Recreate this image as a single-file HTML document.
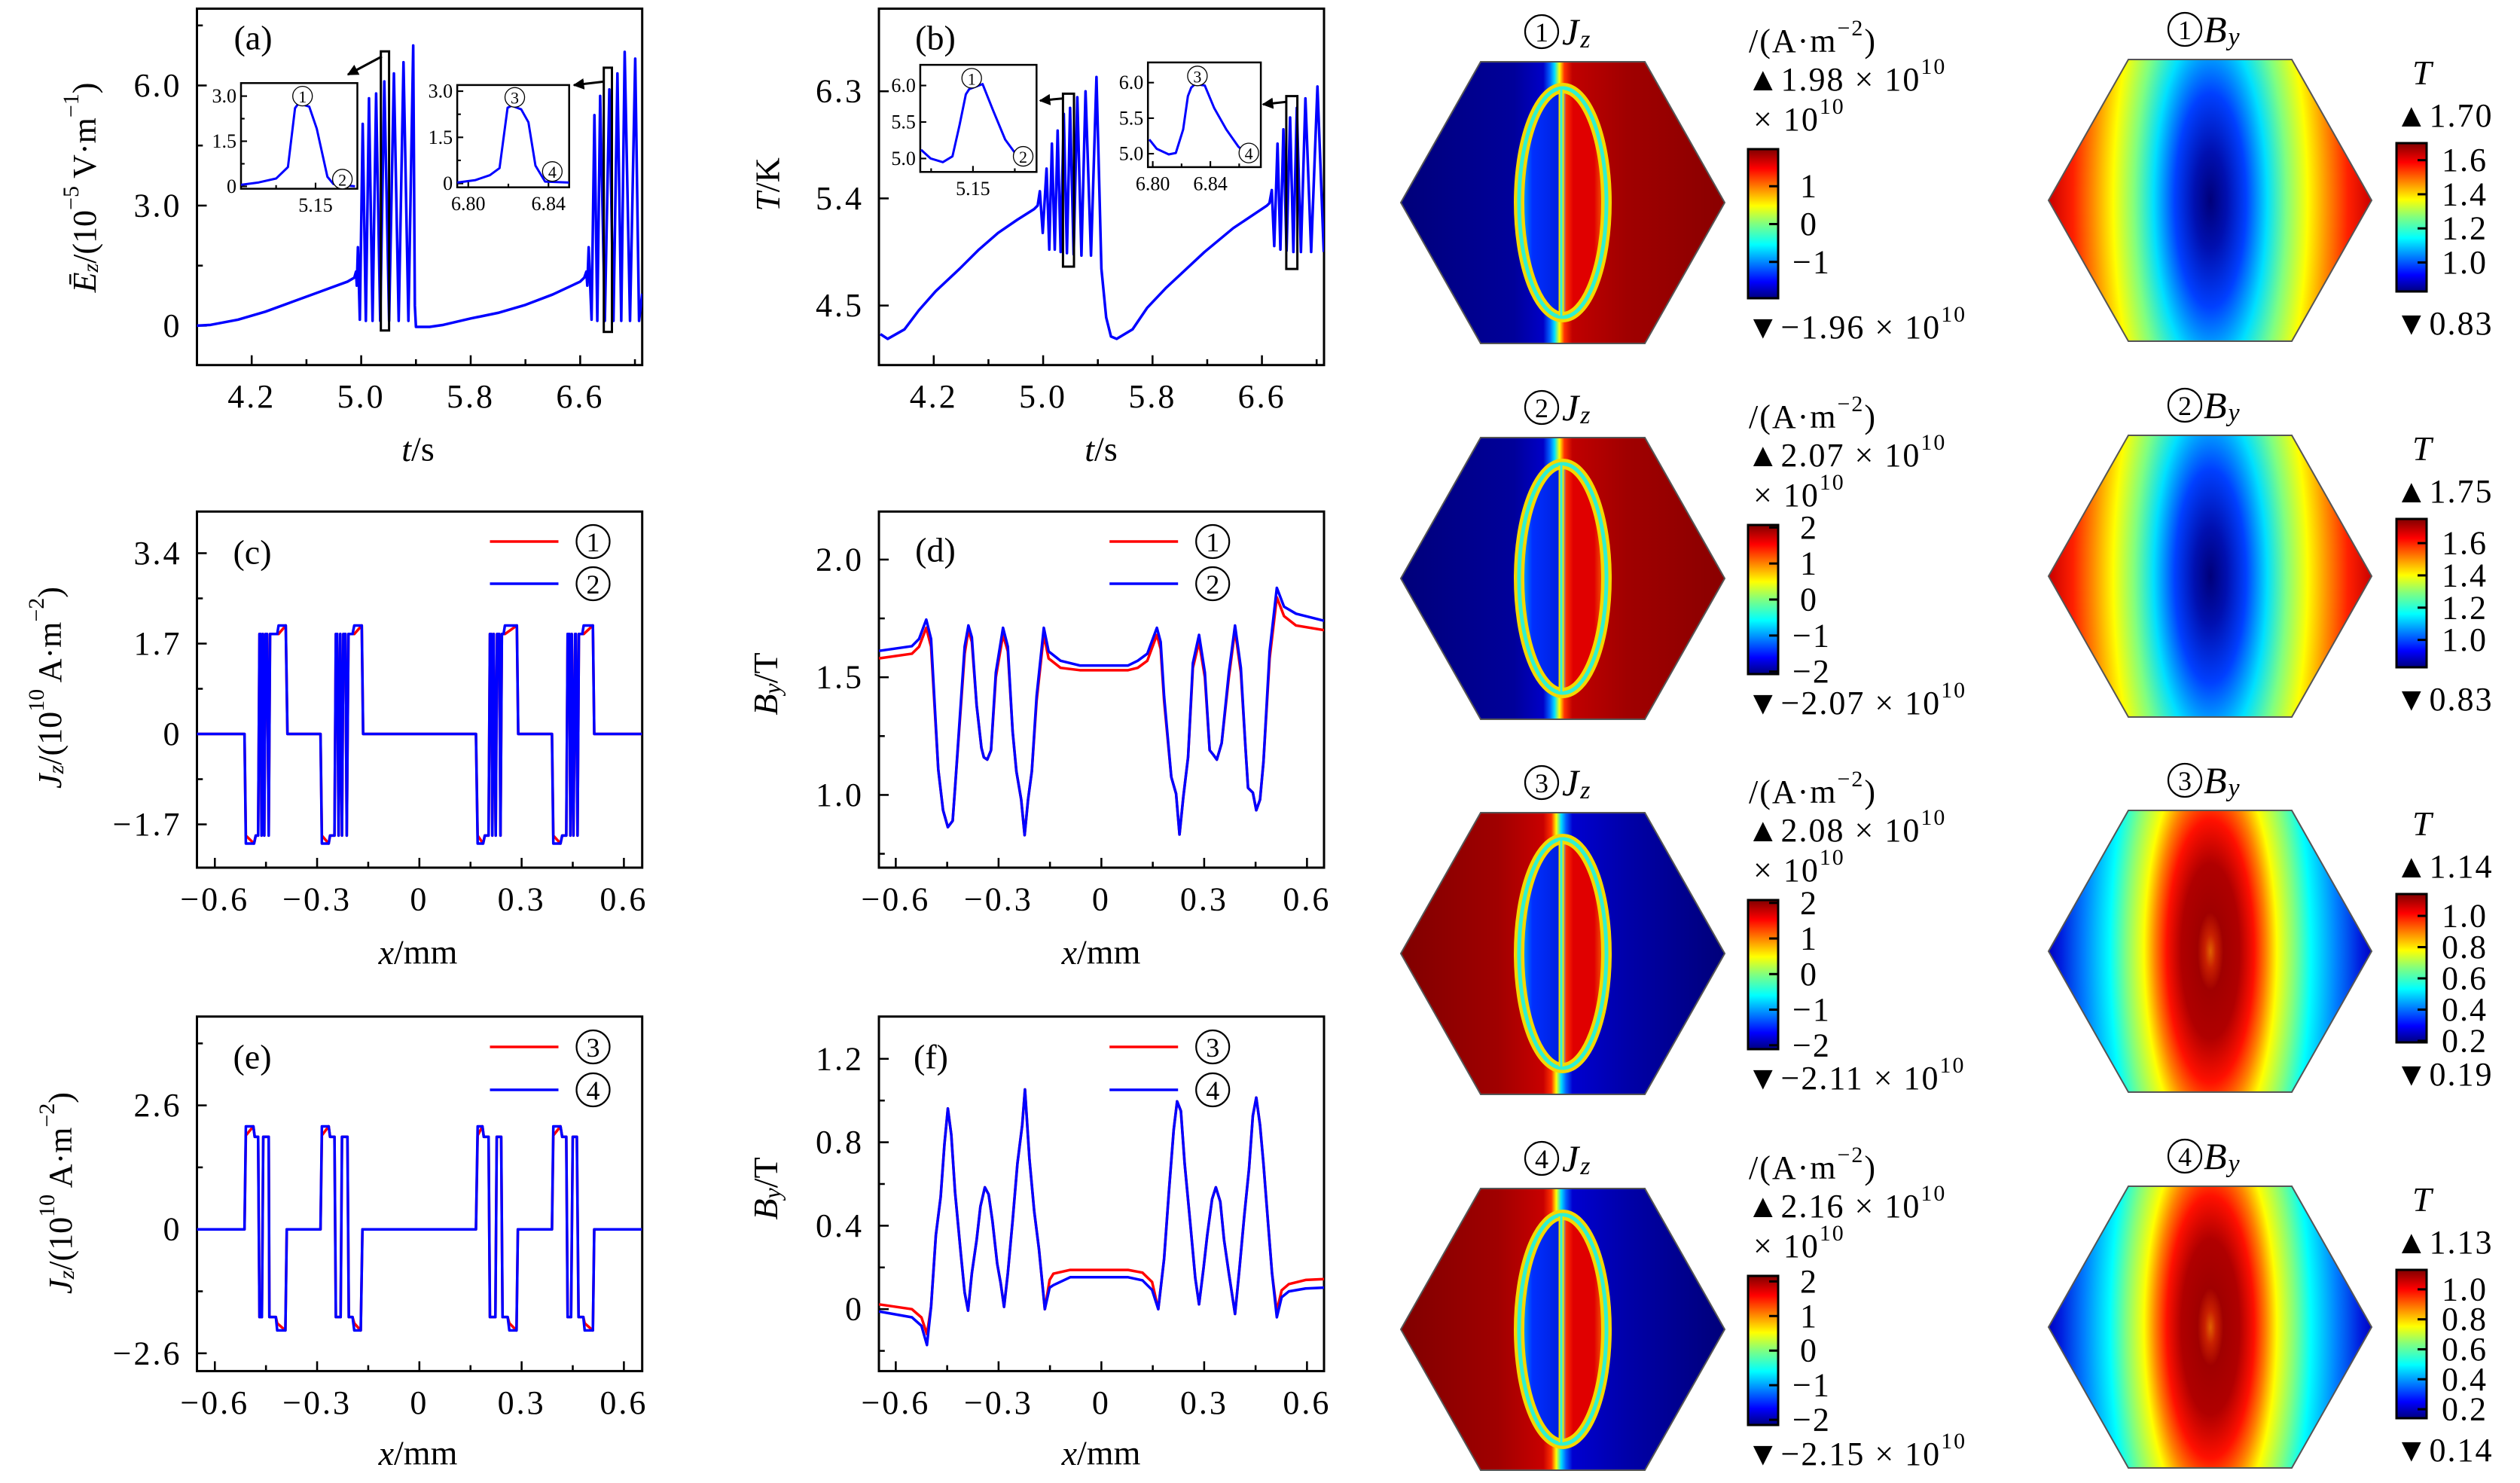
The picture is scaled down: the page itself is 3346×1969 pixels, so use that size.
<!DOCTYPE html>
<html><head><meta charset="utf-8"><title>Figure</title>
<style>html,body{margin:0;padding:0;background:#fff}svg{display:block}</style></head>
<body>
<svg id="fig" xmlns="http://www.w3.org/2000/svg" width="3346" height="1969" viewBox="0 0 3346 1969" font-family="'Liberation Serif','DejaVu Serif',serif">
<defs>
<marker id="arr" viewBox="0 0 10 10" refX="9" refY="5" markerWidth="5" markerHeight="5" orient="auto"><path d="M0,0 L10,5 L0,10 z" fill="#000"/></marker>
<linearGradient id="jet" x1="0" y1="1" x2="0" y2="0">
<stop offset="0" stop-color="#000080"/><stop offset="0.11" stop-color="#0000ff"/><stop offset="0.36" stop-color="#00ffff"/><stop offset="0.5" stop-color="#80ff80"/><stop offset="0.62" stop-color="#ffff00"/><stop offset="0.87" stop-color="#ff0000"/><stop offset="1" stop-color="#800000"/>
</linearGradient>
<linearGradient id="jzBgA" gradientUnits="userSpaceOnUse" x1="1860" y1="0" x2="2290" y2="0">
<stop offset="0" stop-color="#00007a"/><stop offset="0.35" stop-color="#00009a"/><stop offset="0.44" stop-color="#0000c8"/><stop offset="0.46" stop-color="#0060ff"/><stop offset="0.475" stop-color="#00e0ff"/><stop offset="0.49" stop-color="#ffff00"/><stop offset="0.505" stop-color="#ff3000"/><stop offset="0.53" stop-color="#c00000"/><stop offset="0.7" stop-color="#a00000"/><stop offset="1" stop-color="#8a0000"/>
</linearGradient>
<linearGradient id="jzBgB" gradientUnits="userSpaceOnUse" x1="1860" y1="0" x2="2290" y2="0">
<stop offset="0" stop-color="#800000"/><stop offset="0.3" stop-color="#a00000"/><stop offset="0.44" stop-color="#c80000"/><stop offset="0.465" stop-color="#ff3000"/><stop offset="0.48" stop-color="#ffff00"/><stop offset="0.495" stop-color="#00e0ff"/><stop offset="0.51" stop-color="#0060ff"/><stop offset="0.53" stop-color="#0000d0"/><stop offset="0.7" stop-color="#0000a8"/><stop offset="1" stop-color="#00007a"/>
</linearGradient>
<linearGradient id="ellFill" gradientUnits="userSpaceOnUse" x1="2017" y1="0" x2="2133" y2="0">
<stop offset="0" stop-color="#00c0ff"/><stop offset="0.15" stop-color="#0030ff"/><stop offset="0.45" stop-color="#0020e0"/><stop offset="0.5" stop-color="#30e0ff"/><stop offset="0.54" stop-color="#ff3000"/><stop offset="0.62" stop-color="#e00000"/><stop offset="0.86" stop-color="#e00000"/><stop offset="1" stop-color="#ff8000"/>
</linearGradient>
</defs>

<g font-size="46" text-anchor="middle" dominant-baseline="central">
<text x="336" y="50">(a)</text>
<text x="1242" y="50">(b)</text>
<text x="335" y="733">(c)</text>
<text x="1242" y="730">(d)</text>
<text x="335" y="1403">(e)</text>
<text x="1236" y="1403">(f)</text>
</g>
<g font-size="46" text-anchor="middle" dominant-baseline="central">
<text x="555" y="596"><tspan font-style="italic">t</tspan>/s</text>
<text x="1462" y="596"><tspan font-style="italic">t</tspan>/s</text>
<text x="555" y="1264"><tspan font-style="italic">x</tspan>/mm</text>
<text x="1462" y="1264"><tspan font-style="italic">x</tspan>/mm</text>
<text x="555" y="1929"><tspan font-style="italic">x</tspan>/mm</text>
<text x="1462" y="1929"><tspan font-style="italic">x</tspan>/mm</text>
<text transform="translate(112,249) rotate(-90)" font-size="44"><tspan font-style="italic">Ē</tspan><tspan font-style="italic" font-size="30" dy="8">z</tspan><tspan dy="-8">/(10</tspan><tspan font-size="30" dy="-18">−5</tspan><tspan dy="18"> V·m</tspan><tspan font-size="30" dy="-18">−1</tspan><tspan dy="18">)</tspan></text>
<text transform="translate(1019,245) rotate(-90)"><tspan font-style="italic">T</tspan>/K</text>
<text transform="translate(66,913) rotate(-90)" font-size="44"><tspan font-style="italic">J</tspan><tspan font-style="italic" font-size="30" dy="8">z</tspan><tspan dy="-8">/(10</tspan><tspan font-size="30" dy="-18">10</tspan><tspan dy="18"> A·m</tspan><tspan font-size="30" dy="-18">−2</tspan><tspan dy="18">)</tspan></text>
<text transform="translate(80,1584) rotate(-90)" font-size="44"><tspan font-style="italic">J</tspan><tspan font-style="italic" font-size="30" dy="8">z</tspan><tspan dy="-8">/(10</tspan><tspan font-size="30" dy="-18">10</tspan><tspan dy="18"> A·m</tspan><tspan font-size="30" dy="-18">−2</tspan><tspan dy="18">)</tspan></text>
<text transform="translate(1016,908) rotate(-90)"><tspan font-style="italic">B</tspan><tspan font-style="italic" font-size="32" dy="9">y</tspan><tspan dy="-9">/T</tspan></text>
<text transform="translate(1016,1578) rotate(-90)"><tspan font-style="italic">B</tspan><tspan font-style="italic" font-size="32" dy="9">y</tspan><tspan dy="-9">/T</tspan></text>
</g>
</svg>
<script>
// ---------------- DATA ----------------
const tA=[3.8,3.9,4.1,4.3,4.5,4.7,4.9,4.95,4.962,4.968,
 4.976,4.99,5.011,5.034,5.057,5.083,5.109,5.139,5.169,5.204,5.239,5.274,5.309,5.345,
 5.380,5.392,5.40,5.5,5.6,5.8,6.0,6.2,6.4,6.6,6.63,6.645,6.652,
 6.662,6.683,6.704,6.725,6.746,6.78,6.813,6.843,6.872,6.9,6.925,6.964,7.002,7.03,7.053];
const eA=[0,0.02,0.15,0.35,0.6,0.85,1.1,1.2,1.35,1.0,
 1.96,0.15,5.04,0.12,5.68,0.12,5.8,0.12,6.1,0.12,6.3,0.12,6.58,0.12,
 7.0,0.5,-0.03,-0.03,0.02,0.18,0.32,0.52,0.78,1.1,1.2,1.35,1.0,
 1.96,0.15,5.26,0.12,5.74,0.12,5.9,0.12,6.3,0.12,6.84,0.12,6.67,0.12,0.8];
const aXTicks=[4.2,5.0,5.8,6.6], aXLabels=['4.2','5.0','5.8','6.6'], aXMinor=[4.6,5.4,6.2,7.0];
const aYTicks=[0,3,6], aYLabels=['0','3.0','6.0'], aYMinor=[1.5,4.5,7.5];
const tI1=[5.1311,5.1356,5.14,5.143,5.1448,5.1457,5.1484,5.1503,5.153,5.1545,5.16];
const eI1=[0.05,0.13,0.26,0.64,2.6,2.76,2.65,1.92,0.32,0.08,0.0];
const tI2=[6.7945,6.8036,6.8108,6.8156,6.8196,6.8216,6.8264,6.83,6.8335,6.8383,6.8503];
const eI2=[0.03,0.11,0.27,0.5,2.46,2.53,2.41,1.99,0.58,0.06,0.03];
const tB=[3.81,3.863,3.986,4.091,4.214,4.39,4.53,4.67,4.81,4.934,4.96,
 4.976,4.997,5.025,5.045,5.064,5.085,5.106,5.128,5.151,5.174,5.197,5.223,5.25,5.28,5.31,5.35,
 5.39,5.426,5.461,5.496,5.538,5.654,5.76,5.9,6.18,6.39,6.637,6.655,
 6.672,6.69,6.714,6.735,6.757,6.78,6.806,6.83,6.855,6.885,6.918,6.96,7.006,7.052];
const TB=[4.26,4.22,4.30,4.46,4.62,4.81,4.97,5.11,5.22,5.31,5.34,
 5.46,5.11,5.65,4.97,5.86,4.97,5.97,4.95,6.11,4.94,6.16,4.93,6.25,4.92,6.30,4.92,
 6.42,4.81,4.40,4.24,4.22,4.30,4.48,4.65,4.95,5.15,5.34,5.36,
 5.47,5.0,5.86,4.97,5.98,4.96,6.08,4.95,6.16,4.95,6.24,4.95,6.34,4.95];
const bYTicks=[4.5,5.4,6.3], bYLabels=['4.5','5.4','6.3'];
const tJ1=[5.1376,5.1399,5.1428,5.1451,5.1468,5.1483,5.1491,5.1523,5.1548,5.1577,5.16,5.1619];
const TJ1=[5.12,5.0,4.95,5.03,5.46,5.88,5.95,6.02,5.66,5.26,5.08,5.0];
const tJ2=[6.7976,6.8027,6.8111,6.816,6.8211,6.8244,6.8267,6.8294,6.8361,6.8427,6.8511,6.8594,6.8644];
const TJ2=[5.20,5.07,4.99,5.01,5.34,5.81,5.93,5.98,5.96,5.64,5.34,5.10,5.01];
const xmmTicks=[-0.6,-0.3,0,0.3,0.6], xmmLabels=['−0.6','−0.3','0','0.3','0.6'], xmmMinor=[-0.45,-0.15,0.15,0.45];
const xC=[-0.654,-0.513,-0.509,-0.485,-0.480,-0.473,-0.469,-0.466,-0.463,-0.459,-0.455,-0.451,-0.447,-0.442,-0.438,-0.417,-0.413,-0.392,-0.387,
 -0.290,-0.286,-0.266,-0.262,-0.249,-0.245,-0.241,-0.237,-0.232,-0.227,-0.223,-0.217,-0.213,-0.208,-0.196,-0.191,-0.169,-0.165,
 0.166,0.171,0.187,0.192,0.203,0.207,0.211,0.214,0.218,0.224,0.228,0.234,0.238,0.242,0.247,0.251,0.286,0.290,
 0.389,0.393,0.414,0.419,0.431,0.435,0.440,0.443,0.447,0.452,0.457,0.459,0.464,0.468,0.478,0.482,0.509,0.513,0.653];
const jzC2=[0,0,-2.06,-2.06,-1.91,-1.91,1.88,1.88,-1.91,1.88,-1.91,1.88,1.88,-1.91,1.88,1.88,2.04,2.04,0,
 0,-2.06,-2.06,-1.91,-1.91,1.88,1.88,-1.91,1.88,-1.91,1.88,1.88,-1.91,1.88,1.88,2.04,2.04,0,
 0,-2.06,-2.06,-1.91,-1.91,1.88,1.88,-1.91,1.88,-1.91,1.88,1.88,-1.91,1.88,1.88,2.04,2.04,0,
 0,-2.06,-2.06,-1.91,-1.91,1.88,1.88,-1.91,1.88,-1.91,1.88,1.88,-1.91,1.88,1.88,2.04,2.04,0,0];
const jzC1=[0,0,-1.91,-2.06,-1.91,-1.91,1.88,1.88,-1.91,1.88,-1.91,1.88,1.88,-1.91,1.88,1.88,1.88,2.04,0,
 0,-1.91,-2.06,-1.91,-1.91,1.88,1.88,-1.91,1.88,-1.91,1.88,1.88,-1.91,1.88,1.88,1.88,2.04,0,
 0,-1.91,-2.06,-1.91,-1.91,1.88,1.88,-1.91,1.88,-1.91,1.88,1.88,-1.91,1.88,1.88,1.88,2.04,0,
 0,-1.91,-2.06,-1.91,-1.91,1.88,1.88,-1.91,1.88,-1.91,1.88,1.88,-1.91,1.88,1.88,1.88,2.04,0,0];
const cYTicks=[-1.7,0,1.7,3.4], cYLabels=['−1.7','0','1.7','3.4'], cYMinor=[-0.85,0.85,2.55];
const xE=[-0.654,-0.513,-0.509,-0.487,-0.483,-0.473,-0.469,-0.462,-0.458,-0.442,-0.440,-0.421,-0.417,-0.393,-0.389,
 -0.290,-0.286,-0.266,-0.262,-0.249,-0.245,-0.231,-0.227,-0.211,-0.207,-0.196,-0.191,-0.172,-0.167,
 0.166,0.171,0.185,0.189,0.203,0.207,0.223,0.227,0.240,0.244,0.259,0.264,0.285,0.289,
 0.389,0.393,0.414,0.419,0.431,0.435,0.445,0.450,0.462,0.467,0.481,0.485,0.509,0.513,0.653];
const jzE4=[0,0,2.16,2.16,1.94,1.94,-1.84,-1.84,1.94,1.94,-1.84,-1.84,-2.12,-2.12,0,
 0,2.16,2.16,1.94,1.94,-1.84,-1.84,1.94,1.94,-1.84,-1.84,-2.12,-2.12,0,
 0,2.16,2.16,1.94,1.94,-1.84,-1.84,1.94,1.94,-1.84,-1.84,-2.12,-2.12,0,
 0,2.16,2.16,1.94,1.94,-1.84,-1.84,1.94,1.94,-1.84,-1.84,-2.12,-2.12,0,0];
const jzE3=[0,0,1.97,2.16,1.94,1.94,-1.84,-1.84,1.94,1.94,-1.84,-1.84,-1.97,-2.12,0,
 0,1.97,2.16,1.94,1.94,-1.84,-1.84,1.94,1.94,-1.84,-1.84,-1.97,-2.12,0,
 0,1.97,2.16,1.94,1.94,-1.84,-1.84,1.94,1.94,-1.84,-1.84,-1.97,-2.12,0,
 0,1.97,2.16,1.94,1.94,-1.84,-1.84,1.94,1.94,-1.84,-1.84,-1.97,-2.12,0,0];
const eYTicks=[-2.6,0,2.6], eYLabels=['−2.6','0','2.6'], eYMinor=[-1.3,1.3,3.9];
const xD=[-0.649,-0.553,-0.532,-0.511,-0.497,-0.476,-0.462,-0.448,-0.434,-0.427,-0.399,-0.388,-0.378,-0.364,-0.350,-0.343,-0.333,-0.322,-0.308,-0.287,-0.273,-0.259,-0.248,-0.234,-0.224,-0.214,-0.203,-0.189,-0.168,-0.154,-0.119,-0.063,0.078,0.106,0.134,0.162,0.173,0.183,0.204,0.218,0.228,0.239,0.253,0.267,0.285,0.302,0.316,0.327,0.337,0.351,0.372,0.390,0.407,0.421,0.428,0.442,0.452,0.463,0.473,0.491,0.512,0.533,0.568,0.650];
const byD2=[1.612,1.632,1.663,1.745,1.663,1.108,0.935,0.863,0.89,1.03,1.63,1.72,1.67,1.38,1.2,1.16,1.15,1.19,1.52,1.71,1.63,1.27,1.10,0.98,0.829,0.98,1.10,1.42,1.71,1.61,1.57,1.55,1.55,1.57,1.60,1.71,1.65,1.42,1.076,1.005,0.832,0.99,1.16,1.56,1.68,1.52,1.19,1.17,1.15,1.22,1.52,1.72,1.54,1.19,1.03,1.01,0.935,0.98,1.14,1.61,1.88,1.80,1.77,1.74];
const byD1=[1.58,1.60,1.63,1.71,1.63,1.108,0.935,0.863,0.89,1.03,1.60,1.70,1.65,1.38,1.2,1.16,1.15,1.19,1.50,1.68,1.61,1.27,1.10,0.98,0.829,0.98,1.10,1.40,1.68,1.58,1.54,1.53,1.53,1.54,1.57,1.68,1.62,1.40,1.076,1.005,0.832,0.99,1.16,1.54,1.65,1.50,1.19,1.17,1.15,1.22,1.50,1.70,1.52,1.19,1.03,1.01,0.935,0.98,1.14,1.58,1.84,1.76,1.72,1.70];
const dYTicks=[1.0,1.5,2.0], dYLabels=['1.0','1.5','2.0'], dYMinor=[0.75,1.25,1.75];
const xF=[-0.649,-0.553,-0.525,-0.509,-0.497,-0.483,-0.469,-0.458,-0.448,-0.438,-0.427,-0.410,-0.399,-0.389,-0.378,-0.364,-0.353,-0.340,-0.329,-0.318,-0.304,-0.294,-0.284,-0.273,-0.259,-0.245,-0.231,-0.223,-0.210,-0.196,-0.182,-0.165,-0.151,-0.140,-0.091,0.078,0.120,0.148,0.166,0.183,0.197,0.211,0.221,0.232,0.243,0.260,0.274,0.285,0.298,0.309,0.323,0.334,0.347,0.358,0.372,0.390,0.403,0.417,0.431,0.442,0.452,0.463,0.473,0.487,0.498,0.512,0.526,0.547,0.596,0.650];
const byF4=[-0.011,-0.039,-0.08,-0.172,0.011,0.355,0.538,0.79,0.962,0.836,0.561,0.263,0.08,-0.007,0.172,0.332,0.492,0.584,0.55,0.424,0.218,0.126,0.011,0.172,0.424,0.698,0.882,1.053,0.721,0.469,0.286,0.0,0.103,0.115,0.153,0.153,0.138,0.092,0.0,0.241,0.561,0.859,0.996,0.95,0.698,0.401,0.149,0.023,0.195,0.355,0.527,0.584,0.515,0.332,0.172,-0.023,0.195,0.447,0.675,0.927,1.014,0.882,0.698,0.401,0.172,-0.039,0.057,0.085,0.099,0.103];
const byF3=[0.023,0.0,-0.04,-0.12,0.011,0.355,0.538,0.79,0.962,0.836,0.561,0.263,0.08,-0.007,0.172,0.332,0.492,0.584,0.55,0.424,0.218,0.126,0.011,0.172,0.424,0.698,0.882,1.053,0.721,0.469,0.286,0.0,0.14,0.17,0.188,0.188,0.175,0.13,0.0,0.241,0.561,0.859,0.996,0.95,0.698,0.401,0.149,0.023,0.195,0.355,0.527,0.584,0.515,0.332,0.172,-0.023,0.195,0.447,0.675,0.927,1.014,0.882,0.698,0.401,0.172,-0.01,0.09,0.12,0.14,0.144];
const fYTicks=[0,0.4,0.8,1.2], fYLabels=['0','0.4','0.8','1.2'], fYMinor=[-0.2,0.2,0.6,1.0];
const jzMax=[1.98,2.07,2.08,2.16], jzMin=[-1.96,-2.07,-2.11,-2.15];
const jzMaxText=['1.98','2.07','2.08','2.16'], jzMinText=['−1.96','−2.07','−2.11','−2.15'];
const jzTicks=[[1,0,-1],[2,1,0,-1,-2],[2,1,0,-1,-2],[2,1,0,-1,-2]];
const byMax=[1.70,1.75,1.14,1.13], byMin=[0.83,0.83,0.19,0.14];
const byMaxText=['1.70','1.75','1.14','1.13'], byMinText=['0.83','0.83','0.19','0.14'];
const byTicks=[[1.6,1.4,1.2,1.0],[1.6,1.4,1.2,1.0],[1.0,0.8,0.6,0.4,0.2],[1.0,0.8,0.6,0.4,0.2]];
const stateDigits=['1','2','3','4'];

// ---------------- DRAWING ----------------
const NS='http://www.w3.org/2000/svg';
const svg=document.getElementById('fig');
function mk(tag,attrs,parent,txt){const e=document.createElementNS(NS,tag);for(const k in attrs)e.setAttribute(k,attrs[k]);if(txt!==undefined)e.textContent=txt;(parent||svg).appendChild(e);return e;}
function lin(d0,d1,r0,r1){return v=>r0+(v-d0)/(d1-d0)*(r1-r0);}
let clipN=0;
function axes(o){
  const g=mk('g',{});
  
  
  const [x0,x1,y0,y1]=o.box;
  const sx=lin(o.xd[0],o.xd[1],x0,x1), sy=lin(o.yd[0],o.yd[1],y1,y0);
  const fs=o.fs||44, tl=o.tl||13, sw=o.sw||3;
  if(o.fill){const bg=mk('rect',{x:x0,y:y0,width:x1-x0,height:y1-y0,fill:'#fff'},g);
    
    }
  const id='clip'+(clipN++);
  const cp=mk('clipPath',{id:id},g); mk('rect',{x:x0,y:y0,width:x1-x0,height:y1-y0},cp);
  (o.xMajor||[]).forEach((v,i)=>{
    const t=mk('line',{x1:sx(v),x2:sx(v),y1:y1,y2:y1-tl,stroke:'#000','stroke-width':sw*0.85},g);
    
    
    if(o.xLab&&o.xLab[i]!==undefined){const l=mk('text',{x:sx(v),y:y1+(o.xOff||42),'text-anchor':'middle','dominant-baseline':'central','font-size':fs,'letter-spacing':o.ls===undefined?3:o.ls},g,o.xLab[i]);
      
      }
  });
  (o.xMinor||[]).forEach(v=>{const t=mk('line',{x1:sx(v),x2:sx(v),y1:y1,y2:y1-tl*0.6,stroke:'#000','stroke-width':sw*0.85},g);
    
    });
  (o.yMajor||[]).forEach((v,i)=>{
    const t=mk('line',{x1:x0,x2:x0+tl,y1:sy(v),y2:sy(v),stroke:'#000','stroke-width':sw*0.85},g);
    
    
    if(o.yLab){const l=mk('text',{x:x0-(o.yOff||20),y:sy(v),'text-anchor':'end','dominant-baseline':'central','font-size':fs,'letter-spacing':o.ls===undefined?3:o.ls},g,o.yLab[i]);
      
      }
  });
  (o.yMinor||[]).forEach(v=>{const t=mk('line',{x1:x0,x2:x0+tl*0.6,y1:sy(v),y2:sy(v),stroke:'#000','stroke-width':sw*0.85},g);
    
    });
  const fr=mk('rect',{x:x0,y:y0,width:x1-x0,height:y1-y0,fill:'none',stroke:'#000','stroke-width':sw},g);
  
  
  return {g,sx,sy,clip:id};
}
function series(ax,xs,ys,color,name,w){
  let d='';
  const n=Math.min(xs.length,ys.length);
  for(let i=0;i<n;i++) d+=(i?'L':'M')+ax.sx(xs[i]).toFixed(2)+','+ax.sy(ys[i]).toFixed(2);
  const p=mk('path',{d:d,fill:'none',stroke:color,'stroke-width':w||3.5,'stroke-linejoin':'round','clip-path':'url(#'+ax.clip+')'},ax.g);
  
  
  return p;
}
function circled(parent,x,y,r,dig,fs){
  const g=mk('g',{},parent);
  
  
  mk('circle',{cx:x,cy:y,r:r,fill:'#fff',stroke:'#000','stroke-width':r/10},g);
  mk('text',{x:x,y:y+1,'text-anchor':'middle','dominant-baseline':'central','font-size':fs},g,dig);
  return g;
}
function legend(ax,y1,y2,d1,d2){
  [[y1,'#ff0000',d1],[y2,'#0000ff',d2]].forEach(([y,c,d])=>{
    const l=mk('line',{x1:ax.lx,x2:ax.lx+91,y1:y,y2:y,stroke:c,'stroke-width':3.5},ax.g);
    
    
    circled(ax.g,ax.lx+137,y,22,d,36);
  });
}

const A=axes({name:'panel-a-ez',box:[261.5,852.7,11.5,484.7],xd:[3.8,7.053],yd:[-0.984,7.919],xMajor:aXTicks,xLab:aXLabels,xMinor:aXMinor,yMajor:aYTicks,yLab:aYLabels,yMinor:aYMinor});
series(A,tA,eA,'#0000ff','ez-curve');
const B=axes({name:'panel-b-temperature',box:[1167,1758,11.5,484.7],xd:[3.799,7.054],yd:[4.0,6.994],xMajor:aXTicks,xLab:aXLabels,xMinor:aXMinor,yMajor:bYTicks,yLab:bYLabels});
series(B,tB,TB,'#0000ff','temperature-curve');

function marker(parent,x,y,w,h,ax1,ay1,ax2,ay2,name){
  const r=mk('rect',{x:x,y:y,width:w,height:h,fill:'none',stroke:'#000','stroke-width':3},parent);
  
  
  const l=mk('line',{x1:ax1,y1:ay1,x2:ax2,y2:ay2,stroke:'#000','stroke-width':3,'marker-end':'url(#arr)'},parent);
  
  
}
marker(A.g,505.7,68.2,10.9,370.6,507,75,462,99,'zoom-marker-1');
marker(A.g,801.7,89.9,10.8,350.8,801.7,108.4,762,113,'zoom-marker-2');
marker(B.g,1411.4,124.4,14.6,229.6,1411,130.7,1381,133.6,'zoom-marker-3');
marker(B.g,1707.9,127.6,14.7,229.5,1707.9,135.2,1677,138.6,'zoom-marker-4');

const insOpt={fs:26,tl:8,sw:2.5,ls:0,fill:true,xOff:22,yOff:6};
const IA1=axes(Object.assign({name:'inset-a1',box:[320,474.5,110.3,250.6],xd:[5.1311,5.1606],yd:[-0.08,3.433],xMajor:[5.15],xLab:['5.15'],xMinor:[5.14],yMajor:[0,1.5,3.0],yLab:['0','1.5','3.0'],yMinor:[0.75,2.25]},insOpt));
series(IA1,tI1,eI1,'#0000ff','inset-a1-curve',3);
circled(IA1.g,IA1.sx(5.1467),IA1.sy(3.0),13,'1',22);
circled(IA1.g,IA1.sx(5.1568),IA1.sy(0.24),13,'2',22);
const IA2=axes(Object.assign({name:'inset-a2',box:[607.1,755.7,112.9,248.7],xd:[6.7945,6.8503],yd:[-0.125,3.2],xMajor:[6.80,6.84],xLab:['6.80','6.84'],xMinor:[6.82],yMajor:[0,1.5,3.0],yLab:['0','1.5','3.0'],yMinor:[0.75,2.25]},insOpt));
series(IA2,tI2,eI2,'#0000ff','inset-a2-curve',3);
circled(IA2.g,IA2.sx(6.8232),IA2.sy(2.80),13,'3',22);
circled(IA2.g,IA2.sx(6.8419),IA2.sy(0.39),13,'4',22);
const IB1=axes(Object.assign({name:'inset-b1',box:[1221.9,1376.3,86.1,228.3],xd:[5.1374,5.1652],yd:[4.816,6.283],xMajor:[5.15],xLab:['5.15'],xMinor:[5.14,5.16],yMajor:[5.0,5.5,6.0],yLab:['5.0','5.5','6.0']},insOpt));
series(IB1,tJ1,TJ1,'#0000ff','inset-b1-curve',3);
circled(IB1.g,IB1.sx(5.1497),IB1.sy(6.10),13,'1',22);
circled(IB1.g,IB1.sx(5.162),IB1.sy(5.03),13,'2',22);
const IB2=axes(Object.assign({name:'inset-b2',box:[1524.2,1674.1,82.9,221.9],xd:[6.79665,6.87503],yd:[4.811,6.284],xMajor:[6.80,6.84],xLab:['6.80','6.84'],xMinor:[6.82,6.86],yMajor:[5.0,5.5,6.0],yLab:['5.0','5.5','6.0']},insOpt));
series(IB2,tJ2,TJ2,'#0000ff','inset-b2-curve',3);
circled(IB2.g,IB2.sx(6.831),IB2.sy(6.094),13,'3',22);
circled(IB2.g,IB2.sx(6.8667),IB2.sy(5.01),13,'4',22);

const C=axes({name:'panel-c-jz',box:[261.5,852.7,679.2,1152],xd:[-0.6525,0.6537],yd:[-2.514,4.183],xMajor:xmmTicks,xLab:xmmLabels,xMinor:xmmMinor,yMajor:cYTicks,yLab:cYLabels,yMinor:cYMinor});
series(C,xC,jzC1,'#ff0000','jz-state-1');
series(C,xC,jzC2,'#0000ff','jz-state-2');
C.lx=650.5; legend(C,719,775,'1','2');
const E=axes({name:'panel-e-jz',box:[261.5,852.7,1349.7,1820.4],xd:[-0.6525,0.6537],yd:[-2.973,4.463],xMajor:xmmTicks,xLab:xmmLabels,xMinor:xmmMinor,yMajor:eYTicks,yLab:eYLabels,yMinor:eYMinor});
series(E,xE,jzE3,'#ff0000','jz-state-3');
series(E,xE,jzE4,'#0000ff','jz-state-4');
E.lx=650.5; legend(E,1390,1447,'3','4');
const D=axes({name:'panel-d-by',box:[1167,1758,679.2,1152],xd:[-0.6492,0.6497],yd:[0.691,2.204],xMajor:xmmTicks,xLab:xmmLabels,xMinor:xmmMinor,yMajor:dYTicks,yLab:dYLabels,yMinor:dYMinor});
series(D,xD,byD1,'#ff0000','by-state-1');
series(D,xD,byD2,'#0000ff','by-state-2');
D.lx=1473.2; legend(D,719,775,'1','2');
const F=axes({name:'panel-f-by',box:[1167,1758,1349.7,1820.4],xd:[-0.6492,0.6497],yd:[-0.2969,1.4026],xMajor:xmmTicks,xLab:xmmLabels,xMinor:xmmMinor,yMajor:fYTicks,yLab:fYLabels,yMinor:fYMinor});
series(F,xF,byF3,'#ff0000','by-state-3');
series(F,xF,byF4,'#0000ff','by-state-4');
F.lx=1473.2; legend(F,1390,1447,'3','4');

// ---------------- MAPS ----------------
const defs=svg.querySelector('defs');
const layoutRowTop=[82,581,1079,1578];
const byStopsA=[[0,'#00007a'],[0.1,'#0010b0'],[0.22,'#0040ff'],[0.35,'#00e0ff'],[0.47,'#80ff80'],[0.6,'#ffff00'],[0.72,'#ff9000'],[0.85,'#ff2000'],[1,'#c80000']];
const byStopsB=[[0,'#e06000'],[0.035,'#c82000'],[0.08,'#a00000'],[0.18,'#b00000'],[0.27,'#ff1000'],[0.34,'#ff8000'],[0.41,'#ffff00'],[0.52,'#80ff80'],[0.62,'#00ffff'],[0.78,'#0080ff'],[0.92,'#0020e0'],[1,'#0000c0']];
function txt(parent,x,y,parts,fs,name){
  const t=mk('text',{x:x,y:y,'dominant-baseline':'central','font-size':fs,'letter-spacing':2},parent);
  
  
  let cur=0;
  parts.forEach(p=>{const ts=mk('tspan',{},t,p.s);
    if(p.it) ts.setAttribute('font-style','italic');
    const target=p.sup?-17:(p.sub?10:0);
    if(target!==cur){ts.setAttribute('dy',target-cur);cur=target;}
    if(p.sup||p.sub) ts.setAttribute('font-size',fs*0.68);});
  return t;
}
stateDigits.forEach((dig,r)=>{
  const T=layoutRowTop[r], cy=T+187;
  const row=mk('g',{});
  
  
  const gj=mk('g',{},row);
  
  
  const hexJ=`1966,${T} 2184,${T} 2290,${cy} 2184,${T+374} 1966,${T+374} 1860,${cy}`;
  const cpId='hexj'+r;
  const cp=mk('clipPath',{id:cpId},defs); mk('polygon',{points:hexJ},cp);
  const bg=mk('polygon',{points:hexJ,fill:r<2?'url(#jzBgA)':'url(#jzBgB)'},gj);
  
  
  const ell=mk('g',{'clip-path':'url(#'+cpId+')'},gj);
  
  
  mk('ellipse',{cx:2075,cy:cy,rx:58,ry:152,fill:'url(#ellFill)',stroke:'#f4d800','stroke-width':14},ell);
  mk('ellipse',{cx:2075,cy:cy,rx:58,ry:152,fill:'none',stroke:'#30f0d0','stroke-width':5},ell);
  mk('line',{x1:2073,y1:cy-150,x2:2073,y2:cy+150,stroke:'#f0e000','stroke-width':7},ell);
  mk('line',{x1:2073,y1:cy-150,x2:2073,y2:cy+150,stroke:'#30f0e0','stroke-width':3},ell);
  mk('polygon',{points:hexJ,fill:'none',stroke:'#555','stroke-width':2},gj);
  circled(row,2047,T-40,22,dig,36);
  txt(row,2074,T-40,[{s:'J',it:1},{s:'z',it:1,sub:1}],50,'jz-map-title');
  txt(row,2322,T-28,[{s:'/(A·m'},{s:'−2',sup:1},{s:')'}],44,'jz-unit');
  txt(row,2319,T+23,[{s:'▲'+jzMaxText[r]+' × 10'},{s:'10',sup:1}],44,'jz-max');
  txt(row,2328,T+76,[{s:'× 10'},{s:'10',sup:1}],44,'jz-scale');
  txt(row,2319,T+352,[{s:'▼'+jzMinText[r]+' × 10'},{s:'10',sup:1}],44,'jz-min');
  const bx0=2321,bx1=2361,by0=T+116,by1=T+314;
  const cb=mk('rect',{x:bx0,y:by0,width:bx1-bx0,height:by1-by0,fill:'url(#jet)',stroke:'#000','stroke-width':3},row);
  
  
  const cs=lin(jzMin[r],jzMax[r],by1,by0);
  jzTicks[r].forEach(v=>{
    const tk=mk('line',{x1:bx1-12,x2:bx1,y1:cs(v),y2:cs(v),stroke:'#000','stroke-width':3},row);
    
    
    const lb=mk('text',{x:bx1+(v<0?19:29),y:cs(v),'dominant-baseline':'central','font-size':44,'letter-spacing':2},row,(v<0?'−':'')+Math.abs(v));
    
    
  });
  const Tb=T-3, cyb=Tb+187;
  const gb=mk('g',{},row);
  
  
  const gid='byGrad'+r;
  const rg=mk('radialGradient',{id:gid,gradientUnits:'userSpaceOnUse',cx:2935,cy:cyb,r:215,fx:2935,fy:cyb,gradientTransform:`matrix(1,0,0,3.0,0,${-2.0*cyb})`},defs);
  (r<2?byStopsA:byStopsB).forEach(([o,c])=>mk('stop',{offset:o,'stop-color':c},rg));
  const hexB=`2826,${Tb} 3043,${Tb} 3149,${cyb} 3043,${Tb+374} 2826,${Tb+374} 2720,${cyb}`;
  const hb=mk('polygon',{points:hexB,fill:'url(#'+gid+')',stroke:'#555','stroke-width':2},gb);
  
  
  circled(row,2901,T-43,22,dig,36);
  txt(row,2926,T-43,[{s:'B',it:1},{s:'y',it:1,sub:1}],50,'by-map-title');
  txt(row,3203,T+14,[{s:'T',it:1}],46,'by-unit');
  txt(row,3180,T+71,[{s:'▲'+byMaxText[r]}],44,'by-max');
  txt(row,3180,T+347,[{s:'▼'+byMinText[r]}],44,'by-min');
  const cx0=3182,cx1=3222,cy0=T+108,cy1=T+305;
  const cb2=mk('rect',{x:cx0,y:cy0,width:cx1-cx0,height:cy1-cy0,fill:'url(#jet)',stroke:'#000','stroke-width':3},row);
  
  
  const cs2=lin(byMin[r],byMax[r],cy1,cy0);
  byTicks[r].forEach(v=>{
    const tk=mk('line',{x1:cx1-12,x2:cx1,y1:cs2(v),y2:cs2(v),stroke:'#000','stroke-width':3},row);
    
    
    const lb=mk('text',{x:cx1+20,y:cs2(v),'dominant-baseline':'central','font-size':44,'letter-spacing':2},row,v.toFixed(1));
    
    
  });
});
</script>
</body></html>
